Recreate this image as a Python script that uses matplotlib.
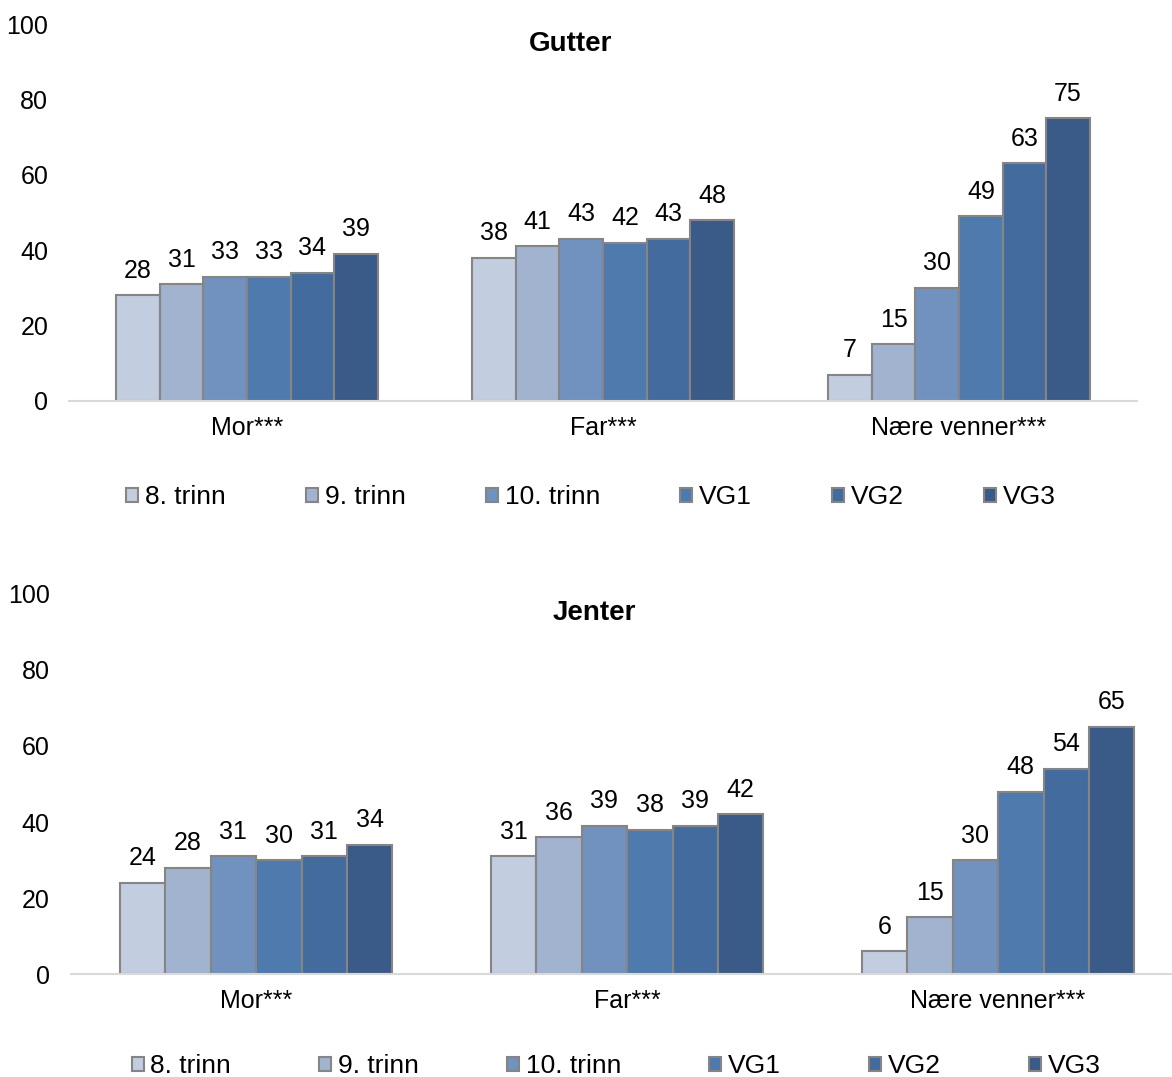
import numpy as np
import matplotlib.pyplot as plt
from matplotlib.patches import Patch

plt.rcParams['font.family'] = ['Liberation Sans', 'DejaVu Sans']

categories = ["Mor***", "Far***", "Nære venner***"]
grades = ["8. trinn", "9. trinn", "10. trinn", "VG1", "VG2", "VG3"]

gutter = [
    [28, 38, 7],   # 8. trinn
    [31, 41, 15],  # 9. trinn
    [33, 43, 30],  # 10. trinn
    [33, 42, 49],  # VG1
    [34, 43, 63],  # VG2
    [39, 48, 75],  # VG3
]
jenter = [
    [24, 31, 6],
    [28, 36, 15],
    [31, 39, 30],
    [30, 38, 48],
    [31, 39, 54],
    [34, 42, 65],
]

colors = ["#C3CDE0", "#A2B3CF", "#7191BF", "#4F7AAD", "#446B9E", "#3A5A87"]
edge = "#858585"
fs = 18


def draw_panel(ax, data, title, title_xy, legend_xy, colspace):
    x = np.arange(len(categories))
    w = 0.1225
    for i, (grade, vals) in enumerate(zip(grades, data)):
        bars = ax.bar(x + (i - 2.5) * w, vals, w, color=colors[i],
                      edgecolor=edge, linewidth=1.5, label=grade)
        ax.bar_label(bars, padding=9, fontsize=fs)
    ax.set_xlim(-0.5, len(categories) - 0.5)
    ax.set_ylim(0, 100)
    ax.set_yticks(range(0, 101, 20))
    ax.set_xticks(x)
    ax.set_xticklabels(categories)
    ax.tick_params(axis="both", length=0, labelsize=fs)
    ax.tick_params(axis="y", pad=15)
    ax.tick_params(axis="x", pad=11)
    for s in ["top", "right", "left"]:
        ax.spines[s].set_visible(False)
    ax.spines["bottom"].set_color("#D9D9D9")
    ax.spines["bottom"].set_linewidth(1.5)
    ax.figure.text(title_xy[0], title_xy[1], title, fontsize=20,
                   fontweight="bold", ha="center", va="center")
    handles = [Patch(facecolor=c, edgecolor=edge, linewidth=1.5) for c in colors]
    ax.figure.legend(handles, grades, loc="center", bbox_to_anchor=legend_xy,
                     ncol=6, frameon=False, fontsize=19, handlelength=0.45,
                     handleheight=0.45, handletextpad=0.25, columnspacing=colspace)


fig = plt.figure(figsize=(11.72, 10.77), dpi=100)
ax1 = fig.add_axes([0.0589, 0.6277, 0.9113, 0.35])
ax2 = fig.add_axes([0.0602, 0.0956, 0.9497, 0.3529])

draw_panel(ax1, gutter, "Gutter", (571 / 1172, 1 - 44 / 1077),
           (591 / 1172, 1 - 497 / 1077), 3.05)
draw_panel(ax2, jenter, "Jenter", (594 / 1172, 1 - 613 / 1077),
           (616 / 1172, 1 - 1066 / 1077), 3.35)

fig.savefig("out.png", dpi=100)
